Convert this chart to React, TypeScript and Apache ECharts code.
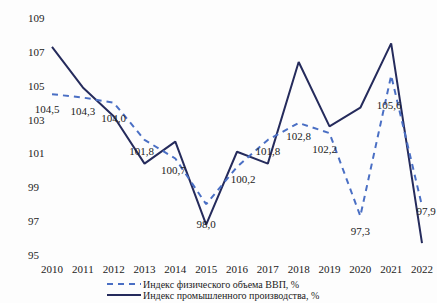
import React, { useEffect, useRef } from "react";
import * as echarts from "echarts";

const years = ["2010", "2011", "2012", "2013", "2014", "2015", "2016", "2017", "2018", "2019", "2020", "2021", "2022"];
const gdpIndex = [104.5, 104.3, 104.0, 101.8, 100.7, 98.0, 100.2, 101.8, 102.8, 102.2, 97.3, 105.6, 97.9];
const industryIndex = [107.3, 104.9, 103.2, 100.4, 101.7, 96.8, 101.1, 100.4, 106.4, 102.6, 103.7, 107.5, 95.7];
const gdpLabelOffsets: [number, number][] = [
  [-5, 3], [0, 2], [0, 4], [-3, 0], [-2, 0], [0, 8], [6, 0], [0, 0], [0, 1], [-5, 4], [0, 3], [-2, 18], [4, -6],
];
const seriesNames = ["Индекс физического объема ВВП, %", "Индекс промышленного производства, %"];

export default function App() {
  const ref = useRef<HTMLDivElement>(null);
  useEffect(() => {
    document.body.style.margin = "0";
    const chart = echarts.init(ref.current!, null, { renderer: "svg" });
    const font = "Liberation Serif";
    const legendBase = {
      orient: "horizontal",
      left: 106,
      itemGap: 0,
      itemWidth: 34,
      itemHeight: 10,
      itemStyle: { opacity: 0 },
      textStyle: { color: "#222", fontSize: 10, fontFamily: font, padding: [0, 0, 0, -3] },
      padding: 0,
    };
    chart.setOption({
      animation: false,
      backgroundColor: "#fdfdfd",
      textStyle: { fontFamily: font },
      grid: { left: 52, right: 15, top: 18, bottom: 48 },
      xAxis: {
        type: "category",
        data: years,
        boundaryGap: false,
        axisLine: { show: false },
        axisTick: { show: false },
        axisLabel: { color: "#222", fontSize: 11, fontFamily: font, margin: 8, interval: 0 },
      },
      yAxis: {
        type: "value",
        min: 95,
        max: 109,
        interval: 2,
        splitLine: { show: false },
        axisLine: { show: false },
        axisTick: { show: false },
        axisLabel: { color: "#222", fontSize: 11, fontFamily: font, margin: 24, align: "left" },
      },
      legend: [
        { ...legendBase, top: 279, data: [seriesNames[0]] },
        { ...legendBase, top: 290, data: [seriesNames[1]] },
      ],
      series: [
        {
          name: seriesNames[0],
          type: "line",
          data: gdpIndex.map((v, i) => ({
            value: v,
            label: { offset: gdpLabelOffsets[i] },
          })),
          symbol: "circle",
          symbolSize: 0.1,
          showSymbol: true,
          lineStyle: { color: "#4a6fc4", width: 2, type: [6, 5] },
          itemStyle: { color: "#4a6fc4" },
          label: {
            show: true,
            position: "bottom",
            distance: 6,
            color: "#222",
            fontSize: 11,
            fontFamily: font,
            formatter: (p: any) => p.value.toFixed(1).replace(".", ","),
          },
          z: 3,
        },
        {
          name: seriesNames[1],
          type: "line",
          data: industryIndex,
          symbol: "none",
          lineStyle: { color: "#252b5c", width: 2 },
          itemStyle: { color: "#252b5c" },
          z: 2,
        },
      ],
    });
    return () => chart.dispose();
  }, []);
  return <div ref={ref} style={{ position: "absolute", left: 0, top: 0, width: 437, height: 303 }} />;
}
